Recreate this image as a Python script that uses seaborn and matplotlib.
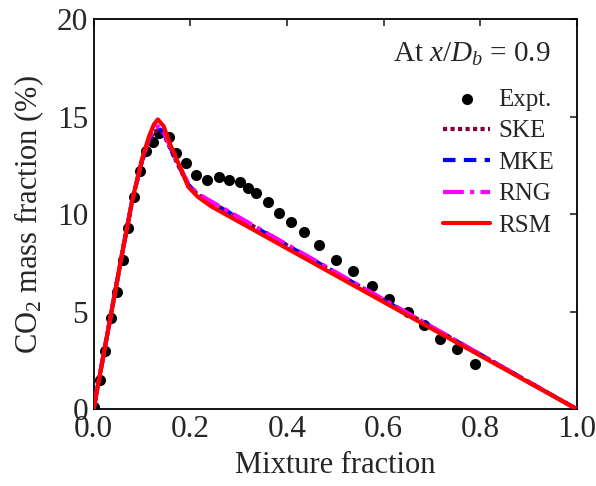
import matplotlib
matplotlib.use("Agg")
import matplotlib.pyplot as plt
import seaborn as sns
import pandas as pd

# Experimental data
expt_x = [0.0, 0.013, 0.024, 0.036, 0.048, 0.060, 0.072, 0.084, 0.096, 0.109, 0.122, 0.136,
          0.157, 0.171, 0.191, 0.212, 0.235, 0.260, 0.280, 0.302, 0.319, 0.337, 0.361,
          0.384, 0.408, 0.435, 0.467, 0.502, 0.537, 0.576, 0.612, 0.650, 0.683, 0.717,
          0.751, 0.790]
expt_y = [0.1, 1.5, 3.0, 4.67, 6.03, 7.64, 9.3, 10.9, 12.2, 13.25, 13.7, 14.14,
          13.96, 13.15, 12.6, 12.0, 11.77, 11.9, 11.77, 11.66, 11.35, 11.06, 10.63,
          10.08, 9.6, 9.09, 8.44, 7.64, 7.09, 6.3, 5.67, 4.99, 4.3, 3.62,
          3.11, 2.34]

# Model predictions
model_x = [0.0, 0.02, 0.04, 0.06, 0.08, 0.10, 0.115, 0.125, 0.133, 0.145, 0.158,
           0.179, 0.196, 0.215, 0.243, 1.0]
ske_y = [0.0, 2.7, 5.4, 8.1, 10.7, 12.7, 13.8, 14.2, 14.3, 14.1, 13.4,
         12.3, 11.5, 11.0, 10.6, 0.0]
mke_y = [0.0, 2.7, 5.4, 8.1, 10.7, 12.7, 13.85, 14.3, 14.4, 14.2, 13.45,
         12.35, 11.5, 11.0, 10.6, 0.0]
rng_y = [0.0, 2.7, 5.4, 8.1, 10.7, 12.75, 13.9, 14.35, 14.5, 14.25, 13.5,
         12.4, 11.55, 11.05, 10.65, 0.0]
rsm_y = [0.0, 2.7, 5.4, 8.1, 10.7, 12.8, 14.0, 14.6, 14.85, 14.5, 13.6,
         12.4, 11.4, 10.9, 10.4, 0.0]

x_ticks = [0.0, 0.2, 0.4, 0.6, 0.8, 1.0]
y_ticks = [0, 5, 10, 15, 20]

sns.set_style("white")
plt.rcParams['font.family'] = ['Liberation Serif', 'DejaVu Serif']
plt.rcParams['mathtext.fontset'] = 'custom'
plt.rcParams['mathtext.rm'] = 'Liberation Serif'
plt.rcParams['mathtext.it'] = 'Liberation Serif:italic'

fig = plt.figure(figsize=(5.96, 4.86), dpi=100)
ax = fig.add_axes([0.157, 0.158, 0.811, 0.803])

df_e = pd.DataFrame({'x': expt_x, 'y': expt_y})
sns.scatterplot(data=df_e, x='x', y='y', ax=ax, color='black', s=64,
                edgecolor='black', linewidth=0, label='Expt.', zorder=2)

models = [('SKE', ske_y, '#800040', (0, (1, 0.8))),
          ('MKE', mke_y, '#0000ff', (0, (3, 2))),
          ('RNG', rng_y, '#ff00ff', (0, (5, 1.5, 1, 1.5))),
          ('RSM', rsm_y, '#ff0000', '-')]
for i, (name, ys, col, ls) in enumerate(models):
    d = pd.DataFrame({'x': model_x, 'y': ys})
    sns.lineplot(data=d, x='x', y='y', ax=ax, color=col, linestyle=ls,
                 linewidth=3.0, label=name, sort=False, zorder=3 + i)

ax.set_xlim(0, 1.0)
ax.set_ylim(0, 20)
ax.set_xticks(x_ticks)
ax.set_xticklabels([f"{v:.1f}" for v in x_ticks])
ax.set_yticks(y_ticks)
ax.set_yticklabels([str(v) for v in y_ticks])
ax.tick_params(direction='in', length=5, width=1.2, top=True, right=True,
               labelsize=22.5, pad=4)
for sp in ax.spines.values():
    sp.set_linewidth(1.3)
    sp.set_color('black')

ax.set_xlabel('Mixture fraction', fontsize=22, labelpad=5)
ax.set_ylabel('CO$_2$ mass fraction (%)', fontsize=22, labelpad=8)

ax.text(0.946, 0.89, 'At $x/D_b$ = 0.9', transform=ax.transAxes,
        ha='right', va='baseline', fontsize=21)

leg = ax.legend(loc='upper right', bbox_to_anchor=(0.952, 0.822), frameon=False,
                fontsize=18, handlelength=1.9, handletextpad=0.3,
                labelspacing=0.36, borderaxespad=0, borderpad=0)

fig.savefig('out.png', dpi=100)
